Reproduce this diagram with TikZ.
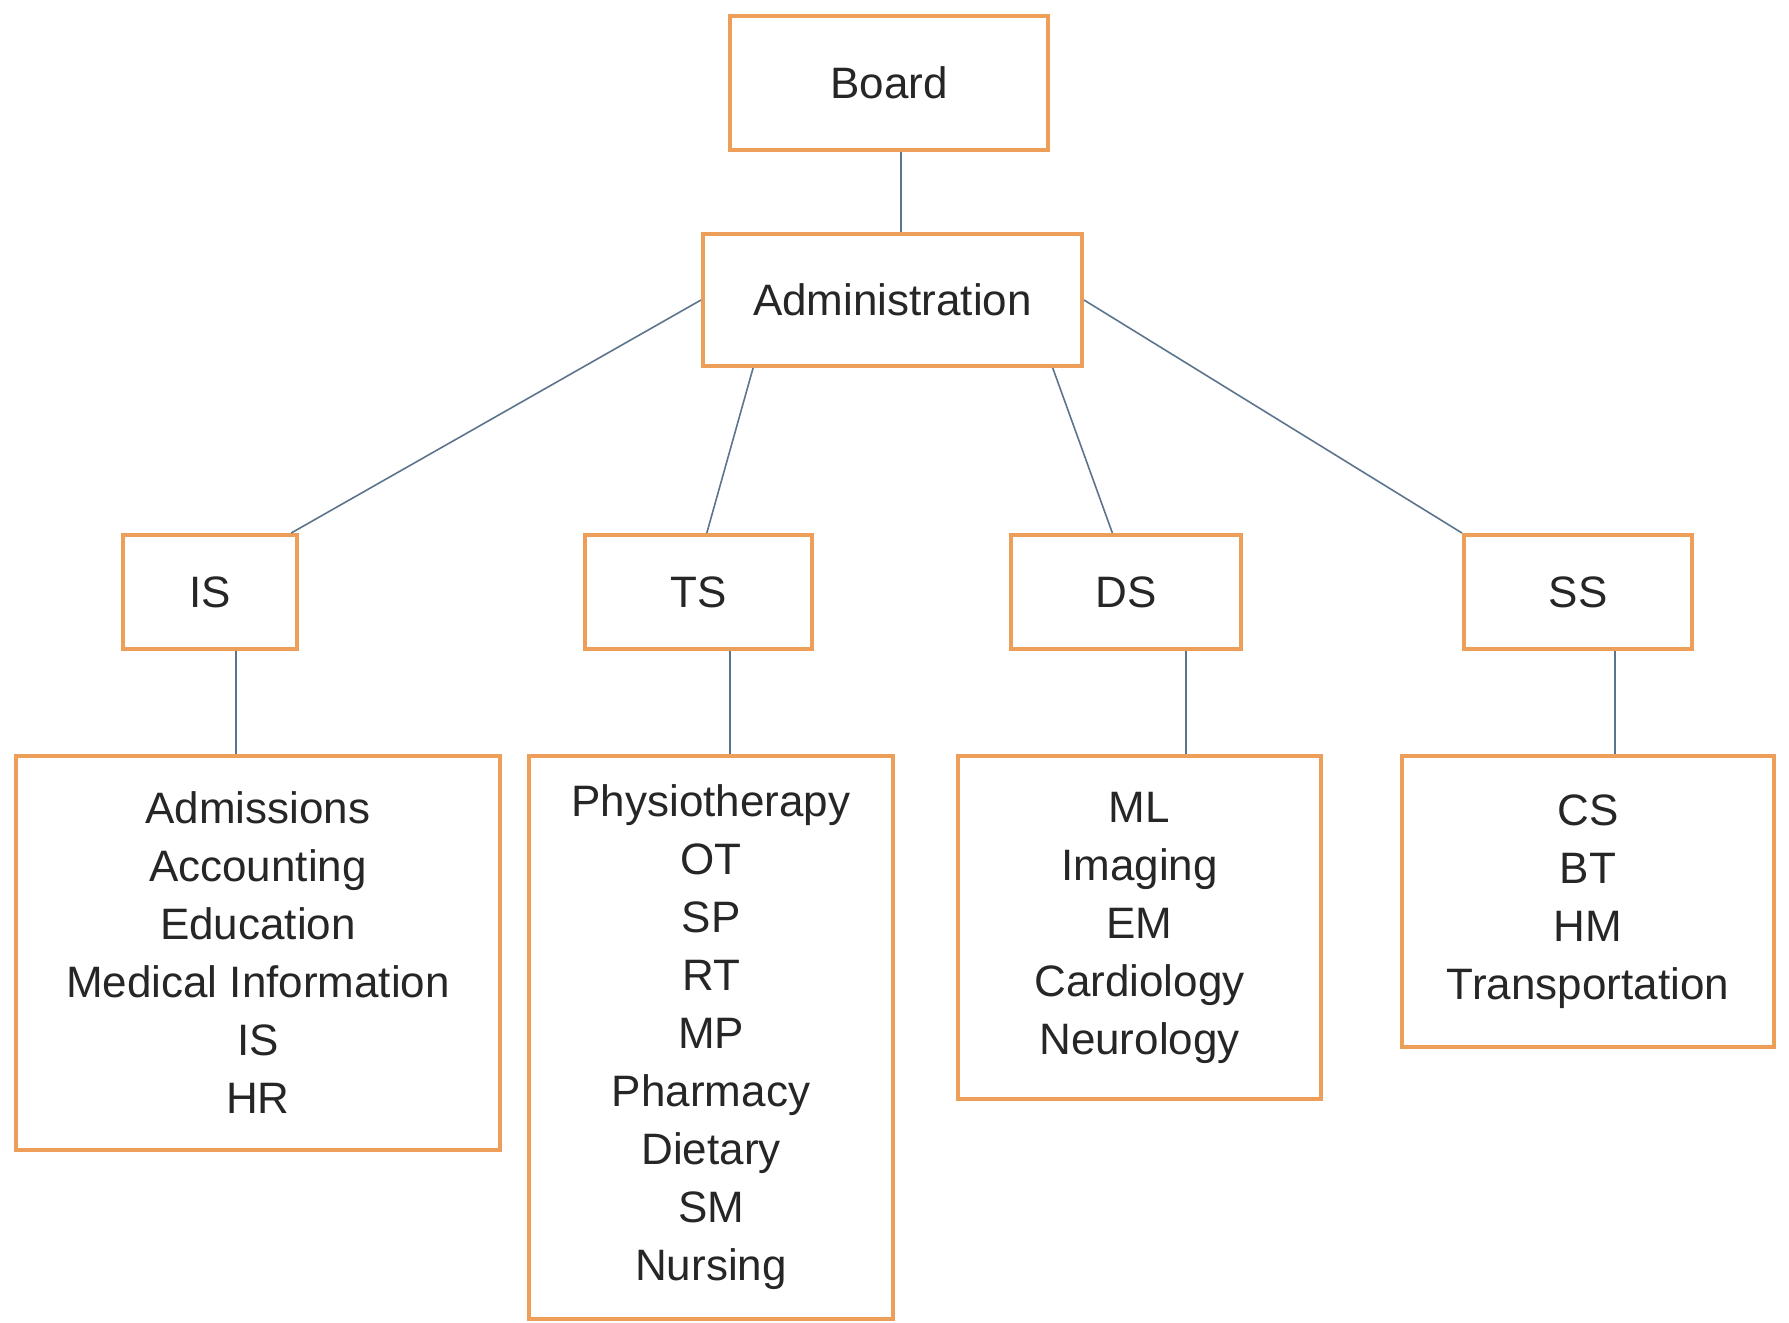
\documentclass[tikz,border=0pt]{standalone}
\usepackage{fontspec}
\setmainfont{Liberation Sans}
\definecolor{boxorange}{RGB}{237,158,88}
\definecolor{linkblue}{RGB}{92,116,140}

\begin{document}
\begin{tikzpicture}[
  x=1pt, y=-1pt,
  every node/.style={font=\fontsize{44}{58}\selectfont, text=black!85, align=center, inner sep=0pt},
  box node/.style={draw=boxorange, line width=4pt, fill=white},
  top node/.style={box node, minimum height=134pt},
  unit node/.style={box node, minimum height=114pt},
  list node/.style={box node},
  link/.style={draw=linkblue, line width=1.6pt}
]
\useasboundingbox (0,0) rectangle (1789,1323);

\node[top node, minimum width=318pt] (board) at (889,83) {Board};
\node[top node, minimum width=379pt, minimum height=132pt] (admin) at (892.5,300) {Administration};

\node[unit node, minimum width=174pt] (is) at (210,592) {IS};
\node[unit node, minimum width=227pt] (ts) at (698.5,592) {TS};
\node[unit node, minimum width=230pt] (ds) at (1126,592) {DS};
\node[unit node, minimum width=228pt] (ss) at (1578,592) {SS};

\node[list node, minimum width=484pt, minimum height=394pt] (islist) at (258,953)
  {Admissions\\Accounting\\Education\\Medical Information\\IS\\HR};
\node[list node, minimum width=364pt, minimum height=563pt] (tslist) at (711,1037.5)
  {Physiotherapy\\OT\\SP\\RT\\MP\\Pharmacy\\Dietary\\SM\\Nursing};
\node[list node, minimum width=363pt, minimum height=343pt] (dslist) at (1139.5,927.5)
  {ML\\Imaging\\EM\\Cardiology\\Neurology};
\node[list node, minimum width=372pt, minimum height=291pt] (sslist) at (1588,901.5)
  {CS\\BT\\HM\\Transportation};

\draw[link] (board.-80) -- (board.-80 |- admin.north);
\draw[link] (admin.west) -- (is.36);
\draw[link] (admin.206) -- (ts.82);
\draw[link] (admin.-23) -- (ds.103);
\draw[link] (admin.east) -- (ss.north west);

\draw[link] ([xshift=26pt]is.south) -- ([xshift=26pt]is.south |- islist.north);
\draw[link] ([xshift=31.5pt]ts.south) -- ([xshift=31.5pt]ts.south |- tslist.north);
\draw[link] ([xshift=60pt]ds.south) -- ([xshift=60pt]ds.south |- dslist.north);
\draw[link] ([xshift=37pt]ss.south) -- ([xshift=37pt]ss.south |- sslist.north);
\end{tikzpicture}
\end{document}
